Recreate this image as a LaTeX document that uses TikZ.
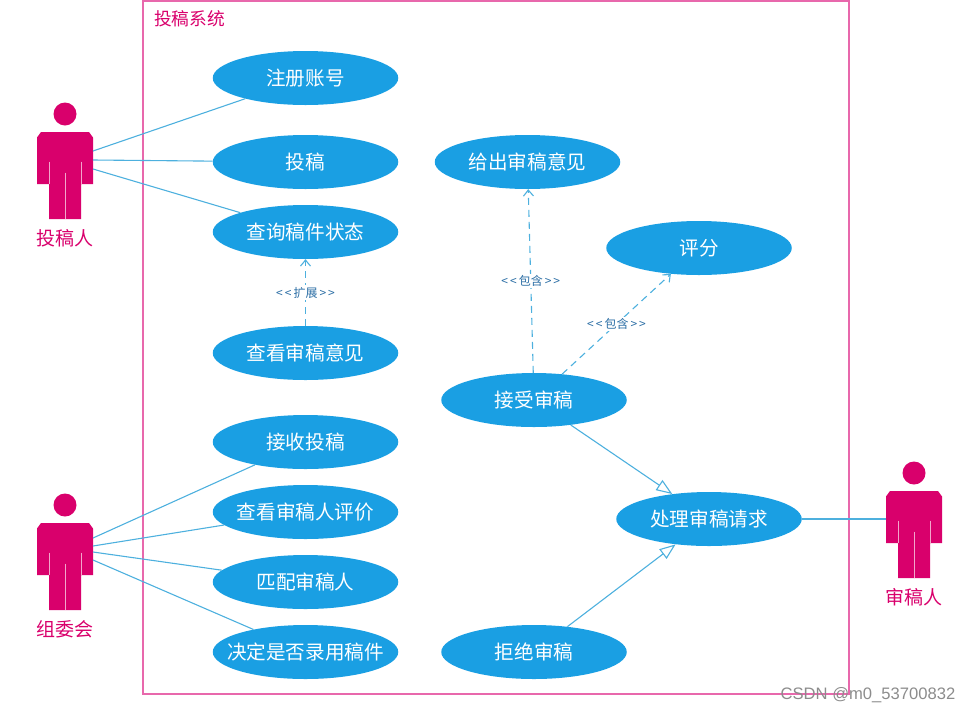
\documentclass[tikz,border=0pt]{standalone}
\usepackage{fontspec}
\setmainfont{Noto Sans CJK SC}
\newfontfamily\markfont{Liberation Sans}
\usetikzlibrary{shapes.geometric, arrows.meta}
\definecolor{usecase}{HTML}{1A9FE3}
\definecolor{actorpink}{HTML}{D9006C}
\definecolor{framepink}{HTML}{E868AC}
\definecolor{assoc}{HTML}{4DB0DE}
\definecolor{stereo}{HTML}{2B6EA5}
\tikzset{
	usecasenode/.style={ellipse, fill=usecase, text=white, minimum width=185.5pt, minimum height=54pt, inner sep=0pt, font=\fontsize{19.6}{21}\selectfont},
	actorbox/.style={minimum width=56pt, minimum height=87pt, inner sep=0pt},
	actorlabel/.style={text=actorpink, inner sep=0pt, font=\fontsize{19}{21}\selectfont},
	stereolabel/.style={fill=white, text=stereo, inner sep=1.5pt, font=\fontsize{12}{14}\selectfont},
	assocline/.style={draw=assoc, line width=1.1pt},
	includeline/.style={assocline, dashed, dash pattern=on 7pt off 5pt, -{Straight Barb[length=6pt,width=10pt]}},
	generalline/.style={assocline, -{Triangle[open,length=16pt,width=12pt,fill=white]}},
	pics/actorfigure/.style={code={
		\fill[actorpink] (0,-61.5) circle (11.5);
		\fill[actorpink] (-24,-43.5) -- (24,-43.5) -- (28,-38) -- (28,8.5) -- (16,8.5) -- (16,43.5) -- (-16,43.5) -- (-16,8.5) -- (-28,8.5) -- (-28,-38) -- cycle;
		\draw[white!65!actorpink, line width=0.6pt] (-16,-14) -- (-16,8.5) (16,-14) -- (16,8.5) (0,-3) -- (0,43.5);
	}}
}
\begin{document}
\begin{tikzpicture}[x=1pt, y=-1pt]
	\useasboundingbox (0,0) rectangle (971,713);
	% system frame
	\node (frame) [draw=framepink, line width=1.2pt, minimum width=706pt, minimum height=693pt, inner sep=0pt] at (496,347.5) {};
	\node (title) [text=actorpink, inner sep=0pt, font=\fontsize{17.7}{19}\selectfont] at (189.5,18.5) {投稿系统};
	% left column
	\node (reg) [usecasenode] at (305.5,78) {注册账号};
	\node (sub) [usecasenode, below of=reg, node distance=84pt] {投稿};
	\node (query) [usecasenode, below of=sub, node distance=70pt] {查询稿件状态};
	\node (view) [usecasenode, below of=query, node distance=121pt] {查看审稿意见};
	\node (recv) [usecasenode, below of=view, node distance=89pt] {接收投稿};
	\node (eval) [usecasenode, below of=recv, node distance=70pt] {\makebox[0pt]{查看审稿人评价}};
	\node (match) [usecasenode, below of=eval, node distance=70pt] {匹配审稿人};
	\node (decide) [usecasenode, below of=match, node distance=70pt] {\makebox[0pt]{决定是否录用稿件}};
	% right column
	\node (opin) [usecasenode] at (527.5,162) {给出审稿意见};
	\node (score) [usecasenode] at (699,248) {评分};
	\node (accept) [usecasenode] at (534,400) {接受审稿};
	\node (handle) [usecasenode] at (709,519) {处理审稿请求};
	\node (reject) [usecasenode] at (534,652) {拒绝审稿};
	% actors
	\node (author) [actorbox] at (65,175.5) {};
	\node (group) [actorbox] at (65,566.5) {};
	\node (review) [actorbox] at (914,534.5) {};
	\pic at (author) {actorfigure};
	\pic at (group) {actorfigure};
	\pic at (review) {actorfigure};
	\node (authorname) [actorlabel, below of=author, node distance=63pt] {投稿人};
	\node (groupname) [actorlabel, below of=group, node distance=63pt] {组委会};
	\node (reviewname) [actorlabel, below of=review, node distance=63pt] {审稿人};
	% connector ends on the actors
	\coordinate (a1) at (93,151);
	\coordinate (a2) at (93,160);
	\coordinate (a3) at (93,169);
	\coordinate (g1) at (93,538);
	\coordinate (g2) at (93,546);
	\coordinate (g3) at (93,552);
	\coordinate (g4) at (93,560);
	\coordinate (r1) at (886,519);
	\path
	(a1) edge[assocline] (reg)
	(a2) edge[assocline] (sub)
	(a3) edge[assocline] (query)
	(g1) edge[assocline] (recv)
	(g2) edge[assocline] (eval)
	(g3) edge[assocline] (match)
	(g4) edge[assocline] (decide)
	(r1) edge[assocline] (handle)
	(view) edge[includeline] node[stereolabel, pos=0.5] {<\,<\,扩展\,>\,>} (query)
	(accept) edge[includeline] node[stereolabel, pos=0.5] {<\,<\,包含\,>\,>} (opin)
	(accept) edge[includeline] node[stereolabel, pos=0.5] {<\,<\,包含\,>\,>} (score)
	(accept) edge[generalline] (handle)
	(reject) edge[generalline] (handle);
	\node (mark) [text=black!45, inner sep=0pt, font=\markfont\fontsize{16.6}{18}\selectfont] at (868,695) {CSDN @m0\_53700832};
\end{tikzpicture}
\end{document}
